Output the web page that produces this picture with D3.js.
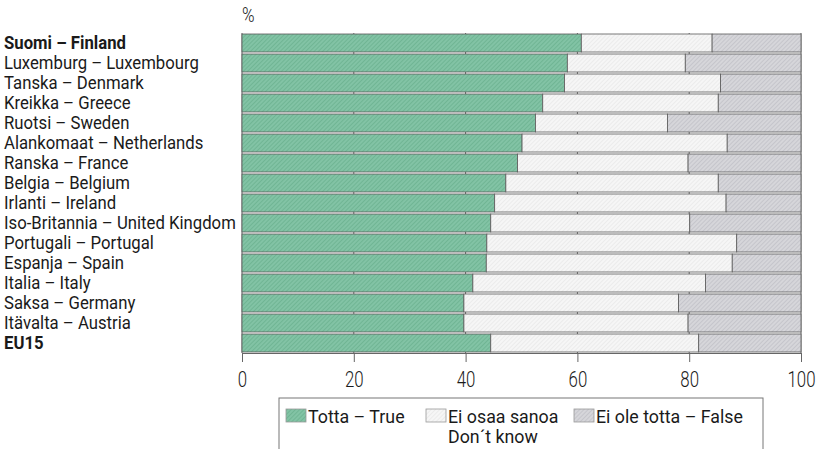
<!DOCTYPE html>
<html><head><meta charset="utf-8">
<script src="https://cdn.jsdelivr.net/npm/d3@7"></script>
<style>
body{margin:0;background:#fff;}
svg text{font-family:Roboto,"Liberation Sans",sans-serif;fill:#1a1a1a;}
</style></head><body>
<svg id="c" width="821" height="449"></svg>
<script>
const countries = ["Suomi – Finland","Luxemburg – Luxembourg","Tanska – Denmark","Kreikka – Greece","Ruotsi – Sweden","Alankomaat – Netherlands","Ranska – France","Belgia – Belgium","Irlanti – Ireland","Iso-Britannia – United Kingdom","Portugali – Portugal","Espanja – Spain","Italia – Italy","Saksa – Germany","Itävalta – Austria","EU15"];
const boldRows = ["Suomi – Finland","EU15"];
const trueVals = [60.7,58.2,57.7,53.8,52.5,50.1,49.3,47.2,45.2,44.5,43.8,43.7,41.3,39.7,39.7,44.5];
const dontKnowVals = [23.4,21.1,27.9,31.4,23.6,36.7,30.5,38.0,41.4,35.6,44.7,44.0,41.6,38.4,40.1,37.2];
const falseVals = trueVals.map((t,i)=>+(100-t-dontKnowVals[i]).toFixed(1));
const seriesNames = ["Totta – True","Ei osaa sanoa","Ei ole totta – False"];
const seriesNames2 = ["","Don´t know",""];
const xTicks = [0,20,40,60,80,100];

const svg = d3.select("#c");
const defs = svg.append("defs");
function hatch(id, bg, fg, w){
  const p = defs.append("pattern").attr("id",id).attr("patternUnits","userSpaceOnUse")
    .attr("width",3).attr("height",3).attr("patternTransform","rotate(45)");
  p.append("rect").attr("width",3).attr("height",3).attr("fill",bg);
  p.append("rect").attr("width",w).attr("height",3).attr("fill",fg);
}
hatch("pTrue","#82c3a5","#70b594",1);
hatch("pDk","#f6f6f6","#ebebeb",1);
hatch("pFalse","#d6d6da","#c5c5cb",1);
const fills = ["url(#pTrue)","url(#pDk)","url(#pFalse)"];

// horizontal condensing to mimic the condensed typeface
function condense(sel, f){
  sel.each(function(){
    const t=d3.select(this); const X=+t.attr("x")||0;
    t.attr("transform",`translate(${X},0) scale(${f},1) translate(${-X},0)`);
  });
}
function maxW(sel){ let m=0; sel.each(function(){ m=Math.max(m,this.getComputedTextLength()); }); return m; }

const x = d3.scaleLinear().domain([0,100]).range([242,801]);
const y = d3.scaleBand().domain(countries).range([33,353]).paddingInner(0.1).paddingOuter(0.05);

// gridlines behind bars
svg.append("g").selectAll("line").data(xTicks).join("line")
  .attr("x1",d=>x(d)).attr("x2",d=>x(d)).attr("y1",33).attr("y2",353)
  .attr("stroke","#666").attr("stroke-width",1);

const stackData = countries.map((c,i)=>({c, v:[trueVals[i],dontKnowVals[i],falseVals[i]]}));
const rows = svg.append("g").selectAll("g").data(stackData).join("g");
rows.each(function(d){
  let acc=0;
  const g=d3.select(this);
  d.v.forEach((v,k)=>{
    g.append("rect").attr("x",x(acc)).attr("width",x(acc+v)-x(acc))
      .attr("y",y(d.c)).attr("height",y.bandwidth())
      .attr("fill",fills[k]).attr("stroke","#5a5a5a").attr("stroke-width",0.8);
    acc+=v;
  });
});

// axis
const ax = svg.append("g").attr("transform","translate(0,353)")
  .call(d3.axisBottom(x).tickValues(xTicks).tickSize(9).tickSizeOuter(0).tickPadding(7));
ax.select(".domain").attr("stroke","#666");
ax.selectAll(".tick line").attr("stroke","#666");
ax.selectAll("text").attr("x",0).style("font-size","22px").style("font-weight","300")
  .attr("fill","#1a1a1a").attr("dy","0.82em");
{
  const t = ax.selectAll("text").filter(d=>d===100);
  const f = 28/maxW(t);
  condense(ax.selectAll("text"), f);
}

// % label
const pct = svg.append("text").attr("x",x(0)).attr("y",22).style("font-size","20px").style("font-weight","300").text("%");
condense(pct,0.85);

// category labels
const labs = svg.append("g").selectAll("text").data(countries).join("text")
  .attr("x",4).attr("y",d=>y(d)+y.bandwidth()/2+6.5)
  .style("font-size","18.5px")
  .style("font-weight",d=>boldRows.includes(d)?"bold":"normal")
  .text(d=>d);
{
  const f = 232/maxW(labs.filter(d=>d==="Iso-Britannia – United Kingdom"));
  condense(labs,f);
}

// legend
const lg = svg.append("g");
lg.append("rect").attr("x",279).attr("y",398).attr("width",484).attr("height",70)
  .attr("fill","#fff").attr("stroke","#777").attr("stroke-width",1);
const lx = [286,426,574];
const ltexts=[];
let falseNode=null;
seriesNames.forEach((s,k)=>{
  lg.append("rect").attr("x",lx[k]).attr("y",409).attr("width",20).attr("height",13)
    .attr("fill",fills[k]).attr("stroke","#999").attr("stroke-width",0.8);
  const n = lg.append("text").attr("x",lx[k]+22).attr("y",423).style("font-size","18.5px").text(s).node();
  ltexts.push(n);
  if(k===2) falseNode=n;
  if(seriesNames2[k]) ltexts.push(lg.append("text").attr("x",lx[k]+22).attr("y",443).style("font-size","18.5px").text(seriesNames2[k]).node());
});
{
  const f = 147/falseNode.getComputedTextLength();
  condense(d3.selectAll(ltexts),f);
}
</script>
</body></html>
